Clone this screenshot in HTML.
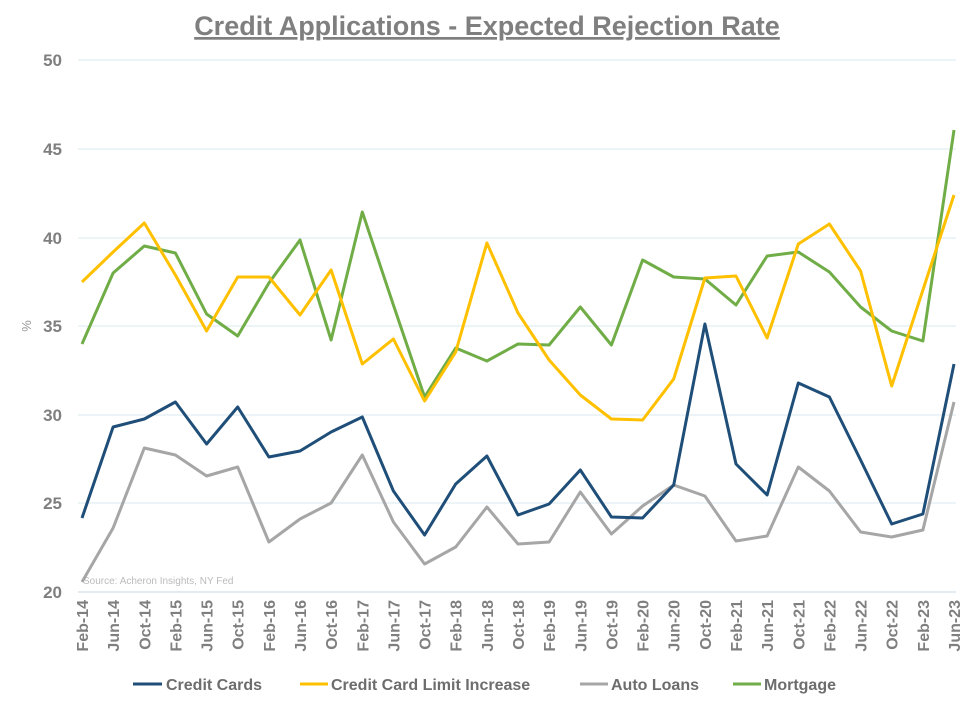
<!DOCTYPE html><html><head><style>body{margin:0;background:#fff}svg{font-family:"Liberation Sans",sans-serif;font-weight:bold}</style></head><body>
<svg width="976" height="706" xmlns="http://www.w3.org/2000/svg">
<text x="487" y="35" text-anchor="middle" font-size="27" fill="#7f7f7f" text-decoration="underline">Credit Applications - Expected Rejection Rate</text>
<g stroke="#dbe8f0" stroke-width="1">
<line x1="78" x2="956" y1="60" y2="60"/><line x1="78" x2="956" y1="149" y2="149"/><line x1="78" x2="956" y1="238" y2="238"/><line x1="78" x2="956" y1="326" y2="326"/><line x1="78" x2="956" y1="415" y2="415"/><line x1="78" x2="956" y1="503" y2="503"/></g>
<line x1="78" x2="956" y1="592" y2="592" stroke="#c5d7e6"/>
<g font-size="17" fill="#7f7f7f" text-anchor="end">
<text x="62" y="66">50</text><text x="62" y="155">45</text><text x="62" y="244">40</text><text x="62" y="332">35</text><text x="62" y="421">30</text><text x="62" y="509">25</text><text x="62" y="598">20</text></g>
<text transform="translate(31,326) rotate(-90)" font-size="13" font-weight="normal" fill="#999" text-anchor="middle">%</text>
<text x="83" y="584" font-size="10" font-weight="normal" fill="#bbb">Source: Acheron Insights, NY Fed</text>
<g id="xl" font-size="16" fill="#7f7f7f" text-anchor="end"></g>
<g fill="none" stroke-width="3" stroke-linejoin="round">
<polyline id="a" stroke="#a6a6a6"/><polyline id="m" stroke="#70ad47"/><polyline id="l" stroke="#ffc000"/><polyline id="c" stroke="#1f4e79"/></g>
<g font-size="16" fill="#6d6d6d">
<line x1="133" x2="162" y1="684" y2="684" stroke="#1f4e79" stroke-width="3"/><text x="166" y="690">Credit Cards</text>
<line x1="300" x2="328" y1="684" y2="684" stroke="#ffc000" stroke-width="3"/><text x="331" y="690">Credit Card Limit Increase</text>
<line x1="580" x2="608" y1="684" y2="684" stroke="#a6a6a6" stroke-width="3"/><text x="611" y="690">Auto Loans</text>
<line x1="733" x2="761" y1="684" y2="684" stroke="#70ad47" stroke-width="3"/><text x="764" y="690">Mortgage</text></g>
</svg>
<script>
const X=i=>82+i*(954-82)/28;
const d={c:[518,427,419,402,444,407,457,451,432,417,491,535,484,456,515,504,470,517,518,485,324,464,495,383,397,460,524,514,364],
l:[282,252,223,275,331,277,277,315,270,364,339,401,352,243,313,360,395,419,420,379,278,276,338,244,224,271,386,290,195],
a:[582,528,448,455,476,467,542,519,503,455,522,564,547,507,544,542,492,534,506,485,496,541,536,467,491,532,537,530,402],
m:[344,273,246,253,314,336,283,240,340,212,305,397,348,361,344,345,307,345,260,277,279,305,256,252,272,307,331,341,130]};
for(const k in d)document.getElementById(k).setAttribute('points',d[k].map((y,i)=>X(i).toFixed(1)+','+y).join(' '));
const m=['Feb','Jun','Oct'];let s='';
for(let i=0;i<29;i++){const lab=m[i%3]+'-'+(14+Math.floor(i/3));const x=X(i)+6;s+=`<text transform="translate(${x.toFixed(1)},600) rotate(-90)">${lab}</text>`;}
document.getElementById('xl').innerHTML=s;
</script>
</body></html>
